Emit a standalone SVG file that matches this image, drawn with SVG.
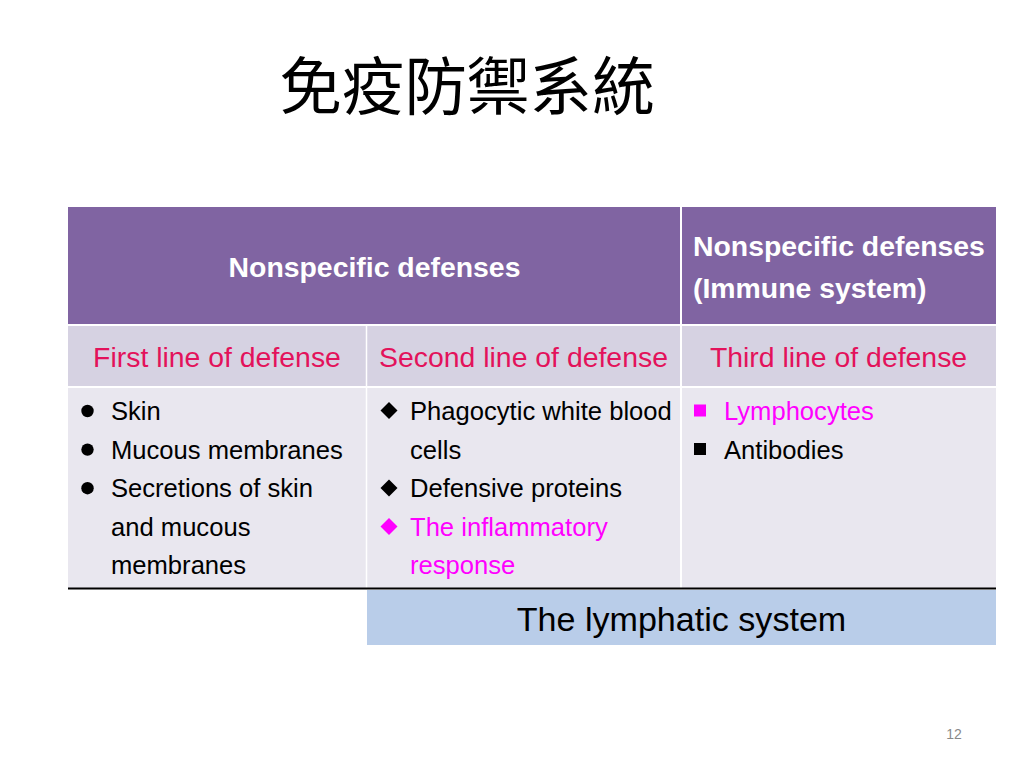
<svg xmlns="http://www.w3.org/2000/svg" width="1024" height="768" viewBox="0 0 1024 768">
<style>
.t{font-family:"Liberation Sans",Arial,sans-serif}
.hd{font-size:28.4px;font-weight:bold;fill:#FFFFFF}
.sub{font-size:28.4px;fill:#E3125B}
.it{font-size:25.6px;fill:#000000}
.pk{fill:#FF00FF}
</style>
<rect width="1024" height="768" fill="#FFFFFF"/>
<g id="title">
<text x="467" y="109" text-anchor="middle" font-family="'Noto Sans CJK TC','Noto Sans CJK SC',sans-serif" font-size="62.6" fill="#000000">免疫防禦系統</text>
</g>
<g id="table">
<rect x="68" y="207" width="928" height="117" fill="#8064A2"/>
<rect x="68" y="326" width="928" height="60" fill="#D6D2E2"/>
<rect x="68" y="388" width="928" height="200" fill="#E9E7EF"/>
<line x1="681" y1="207" x2="681" y2="588" stroke="#FFFFFF" stroke-width="2"/>
<line x1="366.5" y1="326" x2="366.5" y2="588" stroke="#FFFFFF" stroke-width="1.5"/>
<line x1="68" y1="588.5" x2="996" y2="588.5" stroke="#000000" stroke-width="2"/>
</g>
<g id="header-nonspecific">
<text class="t hd" x="374.5" y="277" text-anchor="middle">Nonspecific defenses</text>
</g>
<g id="header-immune">
<text class="t hd" x="693" y="256">Nonspecific defenses</text>
<text class="t hd" x="693" y="298">(Immune system)</text>
</g>
<g id="first-line">
<text class="t sub" x="217" y="367" text-anchor="middle">First line of defense</text>
<g class="t it">
<circle cx="87.5" cy="411" r="6.2" fill="#000"/>
<text x="111" y="420">Skin</text>
<circle cx="87.5" cy="449.6" r="6.2" fill="#000"/>
<text x="111" y="458.6">Mucous membranes</text>
<circle cx="87.5" cy="488.2" r="6.2" fill="#000"/>
<text x="111" y="497.2">Secretions of skin</text>
<text x="111" y="535.8">and mucous</text>
<text x="111" y="574.4">membranes</text>
</g>
</g>
<g id="second-line">
<text class="t sub" x="523.5" y="367" text-anchor="middle">Second line of defense</text>
<g class="t it">
<polygon points="389,402 397.5,410.5 389,419 380.5,410.5" fill="#000"/>
<text x="410" y="420">Phagocytic white blood</text>
<text x="410" y="458.6">cells</text>
<polygon points="389,479.5 397.5,488 389,496.5 380.5,488" fill="#000"/>
<text x="410" y="497.2">Defensive proteins</text>
<polygon points="389,518 397.5,526.5 389,535 380.5,526.5" fill="#FF00FF"/>
<text class="pk" x="410" y="535.8">The inflammatory</text>
<text class="pk" x="410" y="574.4">response</text>
</g>
</g>
<g id="third-line">
<text class="t sub" x="838.5" y="367" text-anchor="middle">Third line of defense</text>
<g class="t it">
<rect x="694" y="404.5" width="12" height="12" fill="#FF00FF"/>
<text class="pk" x="724" y="420">Lymphocytes</text>
<rect x="694" y="443" width="12" height="12" fill="#000"/>
<text x="724" y="458.6">Antibodies</text>
</g>
</g>
<g id="lymphatic">
<rect x="367" y="590" width="629" height="55" fill="#B9CDE9"/>
<text class="t" x="681.5" y="631" text-anchor="middle" font-size="34.1" fill="#000">The lymphatic system</text>
</g>
<g id="page-number">
<text x="954" y="739" text-anchor="middle" font-family="'Liberation Sans',Arial,sans-serif" font-size="14" fill="#898989">12</text>
</g>
</svg>
